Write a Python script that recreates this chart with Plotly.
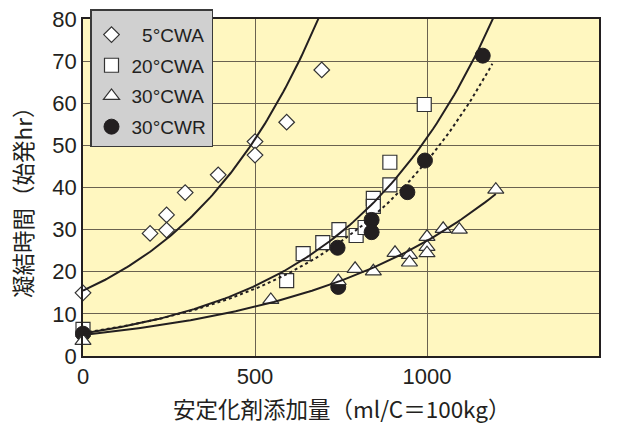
import numpy as np
import plotly.graph_objects as go

# ---- data ----
x_5cwa = [0, 195, 243, 243, 297, 393, 500, 500, 592, 694]
y_5cwa = [15, 29.1, 33.5, 29.9, 38.8, 43, 50.9, 47.7, 55.5, 67.9]

x_20cwa = [0, 592, 640, 697, 744, 794, 820, 844, 844, 892, 892, 992]
y_20cwa = [6.3, 17.9, 24.3, 26.9, 30.0, 28.6, 30.5, 37.4, 35.5, 40.6, 46.0, 59.7]

x_30cwa = [0, 546, 742, 791, 844, 907, 949, 949, 1000, 1000, 1000, 1047, 1094, 1200]
y_30cwa = [3.6, 13.3, 17.8, 20.7, 20.1, 24.5, 24.0, 22.2, 28.3, 25.9, 24.4, 30.2, 30.0, 39.5]

x_30cwr = [0, 740, 742, 839, 839, 943, 994, 1162]
y_30cwr = [5.3, 25.7, 16.4, 32.3, 29.4, 38.9, 46.4, 71.3]

# exponential trend lines y = a*exp(b*x): (a, b, x_end)
trend_5cwa = (15.5, 0.0024, 700)
trend_20cwa = (5.35, 0.00227, 1200)
trend_30cwr = (5.5, 0.00213, 1190)
trend_30cwa = (5.0, 0.0017, 1200)

x_ticks = [0, 500, 1000, 1500]
y_ticks = [0, 10, 20, 30, 40, 50, 60, 70, 80]

names = ["\u20075°CWA", "20°CWA", "30°CWA", "30°CWR"]
x_title = "安定化剤添加量（ml/C＝100kg）"
y_title = "凝結時間（始発hr）"

INK = "#231f20"
fig = go.Figure()


def trend(p, dash):
    a, b, xe = p
    xs = np.linspace(0, xe, 120)
    fig.add_trace(go.Scatter(x=xs, y=a * np.exp(b * xs), mode="lines",
                             line=dict(color=INK, width=2, dash=dash),
                             showlegend=False, hoverinfo="skip"))


mk_line = dict(color="#333333", width=1.2)
fig.add_trace(go.Scatter(x=x_5cwa, y=y_5cwa, mode="markers", name=names[0], legendrank=1,
                         marker=dict(symbol="diamond", size=12, color="white", line=mk_line),
                         cliponaxis=False))
fig.add_trace(go.Scatter(x=x_20cwa, y=y_20cwa, mode="markers", name=names[1], legendrank=2,
                         marker=dict(symbol="square", size=14, color="white", line=mk_line),
                         cliponaxis=False))
fig.add_trace(go.Scatter(x=x_30cwr, y=y_30cwr, mode="markers", name=names[3], legendrank=4,
                         marker=dict(symbol="circle", size=15, color=INK, line=dict(color=INK, width=1)),
                         cliponaxis=False))
fig.add_trace(go.Scatter(x=x_30cwa, y=y_30cwa, mode="markers", name=names[2], legendrank=3,
                         marker=dict(symbol="triangle-up", size=14, color="white", line=mk_line),
                         cliponaxis=False))

trend(trend_5cwa, "solid")
trend(trend_20cwa, "solid")
trend(trend_30cwr, "dot")
trend(trend_30cwa, "solid")

GRID = "#6a6250"
fig.update_layout(
    width=618, height=425,
    margin=dict(l=83, r=19, t=19, b=69, autoexpand=False),
    paper_bgcolor="white",
    plot_bgcolor="#fff7c0",
    font=dict(family="Liberation Sans, Arial, sans-serif", color=INK),
    showlegend=True,
    legend=dict(xref="container", yref="container", x=90 / 618, y=1 - 9 / 425,
                xanchor="left", yanchor="top",
                bgcolor="#d0d0d0", bordercolor="#3a3a3a", borderwidth=1.5,
                font=dict(size=19, family="Liberation Sans, Arial, sans-serif"),
                title=dict(text=" ", font=dict(size=4)),
                tracegroupgap=3),
    xaxis=dict(range=[0, 1500], tickvals=x_ticks, ticktext=[str(v) for v in x_ticks],
               showgrid=True, gridcolor=GRID, gridwidth=1.3, zeroline=False,
               showline=True, linecolor=INK, linewidth=1.5, mirror=True,
               ticks="", tickfont=dict(size=22)),
    yaxis=dict(range=[0, 80], tickvals=y_ticks, ticktext=[str(v) for v in y_ticks],
               showgrid=True, gridcolor=GRID, gridwidth=1.3, zeroline=False,
               showline=True, linecolor=INK, linewidth=1.5, mirror=True,
               ticks="", tickfont=dict(size=22)),
    annotations=[
        dict(text=x_title, xref="paper", yref="paper", x=0.5, y=-(408 - 356) / 337,
             xanchor="center", yanchor="middle", showarrow=False,
             font=dict(size=22.5, family="Noto Sans CJK JP, sans-serif", color=INK)),
        dict(text=y_title, xref="paper", yref="paper", x=-(83 - 22) / 516, y=(356 - 197) / 337,
             xanchor="center", yanchor="middle", showarrow=False, textangle=-90,
             font=dict(size=22.5, family="Noto Sans CJK JP, sans-serif", color=INK)),
    ],
)
for i, tr in enumerate(fig.data):
    tr.legendgroup = "g%d" % i

fig.write_html("out.html", config={"displayModeBar": False},
               post_script="document.body.style.margin='0';document.body.style.overflow='hidden';")
